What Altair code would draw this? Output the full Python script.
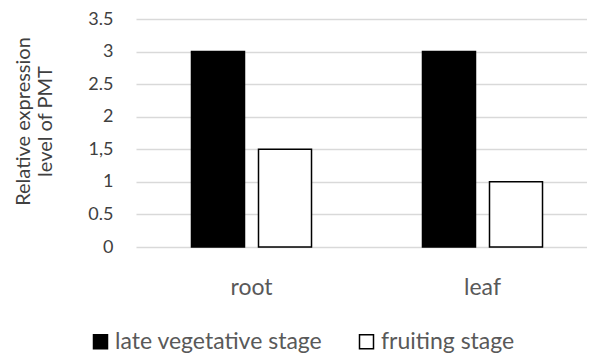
import altair as alt
import pandas as pd

tissues = ["root", "root", "leaf", "leaf"]
stages = ["late vegetative stage", "fruiting stage", "late vegetative stage", "fruiting stage"]
values = [3.0, 1.5, 3.0, 1.0]
y_ticks = [0, 0.5, 1, 1.5, 2, 2.5, 3, 3.5]
stage_order = ["late vegetative stage", "fruiting stage"]
tissue_order = ["root", "leaf"]

df = pd.DataFrame({"tissue": tissues, "stage": stages, "value": values})

FONT = "Lato"
GRAY = "#595959"

chart = alt.Chart(df).mark_bar(stroke="black", strokeWidth=1.5).encode(
    x=alt.X("tissue:N", sort=tissue_order,
            scale=alt.Scale(range=[2, 464], paddingInner=0, paddingOuter=0),
            axis=alt.Axis(title=None, domain=False, ticks=False, labelAngle=0,
                          labelFontSize=23, labelColor=GRAY, labelFont=FONT,
                          labelPadding=29, labelBaseline="top")),
    xOffset=alt.XOffset("stage:N", sort=stage_order,
                        scale=alt.Scale(paddingInner=0.209, paddingOuter=0.828)),
    y=alt.Y("value:Q", scale=alt.Scale(domain=[0, 3.5], nice=False),
            axis=alt.Axis(values=y_ticks, domain=False, ticks=False,
                          labelExpr="datum.value == 1.5 ? '1,5' : '' + datum.value",
                          labelFontSize=18, labelColor="#404040", labelFont=FONT, labelPadding=21,
                          gridColor="#d9d9d9", gridWidth=1.3,
                          title=["Relative expression", "level of PMT"],
                          titleFontSize=20, titleFont=FONT, titleColor="#404040",
                          titleFontWeight="normal", titleX=-101, titleY=102,
                          titleLineHeight=22)),
    fill=alt.Fill("stage:N", sort=stage_order,
                  scale=alt.Scale(domain=stage_order, range=["black", "white"]),
                  legend=alt.Legend(title=None, orient="none", direction="horizontal",
                                    legendX=-45, legendY=311, symbolType="square",
                                    symbolSize=196, symbolStrokeColor="black",
                                    symbolStrokeWidth=1.5, symbolOpacity=1,
                                    labelFontSize=23, labelFont=FONT, labelColor=GRAY,
                                    labelOffset=3, columnPadding=32, padding=0,
                                    labelLimit=400)),
).properties(
    width=453, height=228,
    padding={"left": 126, "top": 11, "right": 0, "bottom": 108},
    autosize=alt.AutoSizeParams(type="none"),
).configure_view(stroke=None)

chart.save("out.html", embed_options={"renderer": "svg", "actions": False})
